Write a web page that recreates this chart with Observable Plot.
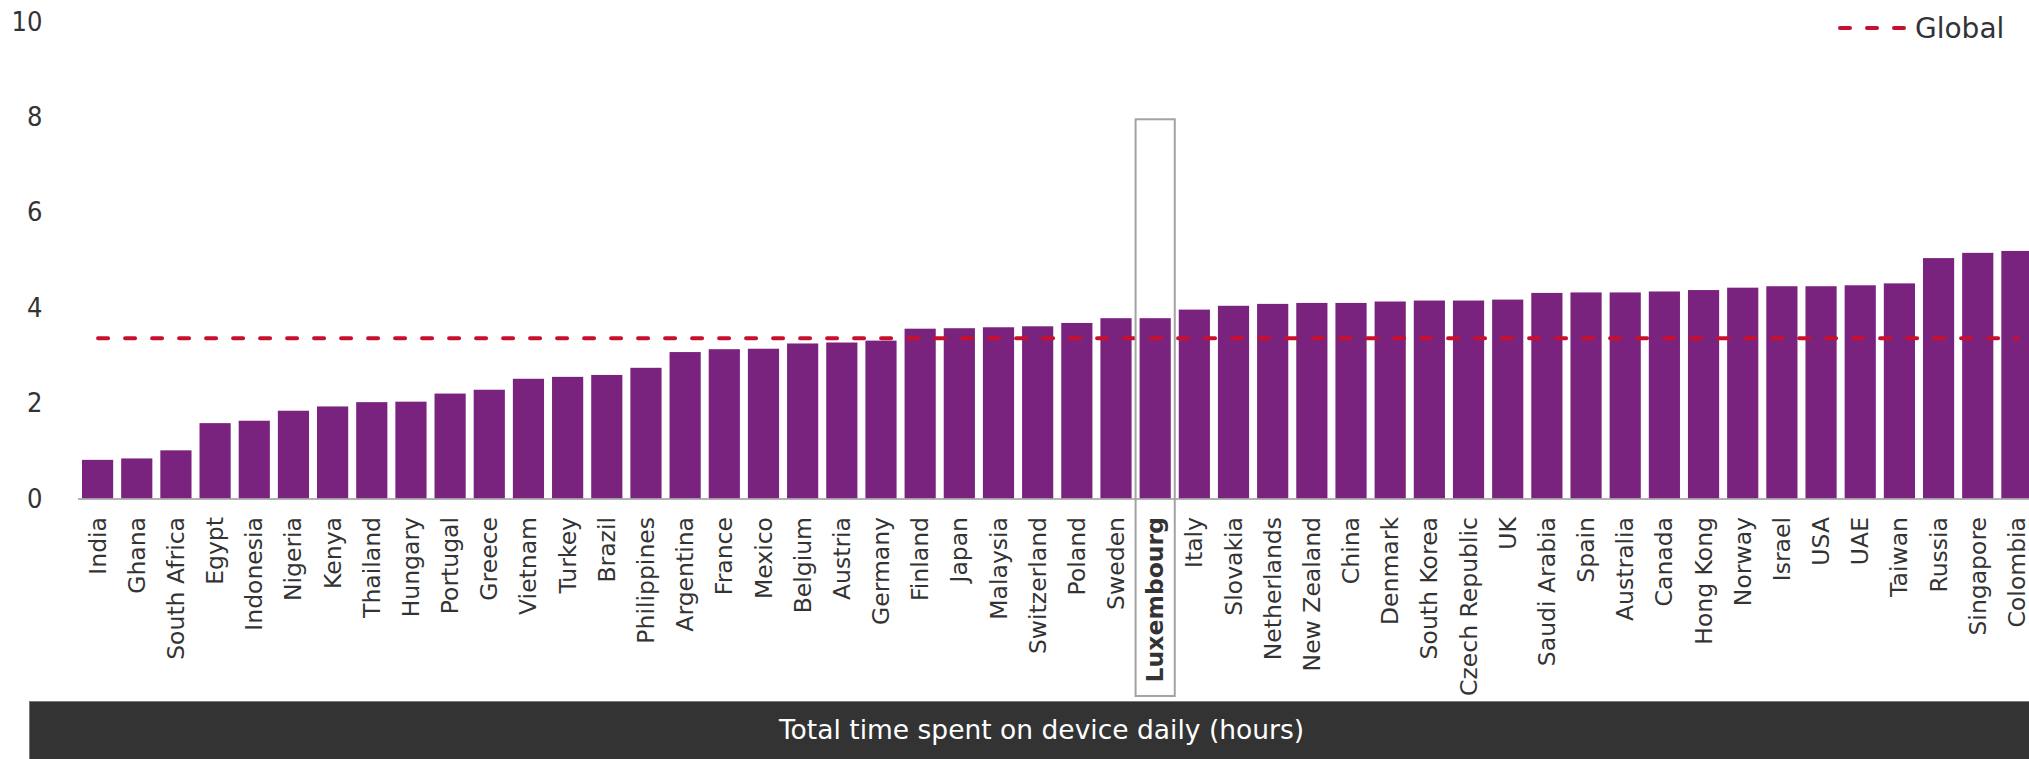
<!DOCTYPE html>
<html><head><meta charset="utf-8">
<script src="https://cdn.jsdelivr.net/npm/d3@7"></script>
<script src="https://cdn.jsdelivr.net/npm/@observablehq/plot@0.6"></script>
<style>
html,body{margin:0;padding:0;background:#fff;overflow:hidden;}
body{width:2029px;height:759px;position:relative;font-family:"DejaVu Sans",sans-serif;}
#chart svg{display:block;}
#legend{position:absolute;left:1836px;top:0;}
#caption{margin-left:29px;height:58px;background:#333;border-top:1px solid #7a7a7a;border-left:1px solid #7a7a7a;color:#fff;font-size:26.5px;line-height:56px;text-align:center;padding-left:24px;box-sizing:border-box;}
</style></head>
<body>
<div id="chart"></div>
<div id="caption">Total time spent on device daily (hours)</div>
<svg id="legend" width="193" height="50">
  <line x1="4" x2="71" y1="28" y2="28" stroke="#c8102e" stroke-width="4" stroke-dasharray="10,17" stroke-linecap="round"/>
  <text x="79" y="37.7" font-family="DejaVu Sans" font-size="28" fill="#333">Global</text>
</svg>
<script>
const countries = ["India","Ghana","South Africa","Egypt","Indonesia","Nigeria","Kenya","Thailand","Hungary","Portugal","Greece","Vietnam","Turkey","Brazil","Philippines","Argentina","France","Mexico","Belgium","Austria","Germany","Finland","Japan","Malaysia","Switzerland","Poland","Sweden","Luxembourg","Italy","Slovakia","Netherlands","New Zealand","China","Denmark","South Korea","Czech Republic","UK","Saudi Arabia","Spain","Australia","Canada","Hong Kong","Norway","Israel","USA","UAE","Taiwan","Russia","Singapore","Colombia"];
const hours = [0.81,0.84,1.01,1.58,1.63,1.84,1.93,2.02,2.03,2.20,2.28,2.51,2.55,2.59,2.74,3.07,3.13,3.14,3.25,3.27,3.31,3.56,3.57,3.59,3.61,3.68,3.78,3.78,3.96,4.04,4.08,4.10,4.10,4.13,4.15,4.15,4.17,4.31,4.32,4.32,4.34,4.37,4.42,4.45,4.45,4.47,4.51,5.04,5.15,5.19];
const globalAverage = 3.37;
const highlight = "Luxembourg";
const highlightBoxTop = 7.95;
const highlightBoxBottom = -4.14;
const yTicks = [0,2,4,6,8,10];

const data = countries.map((c, i) => ({country: c, hours: hours[i], global: globalAverage}));

const plot = Plot.plot({
  width: 2029, height: 701,
  marginTop: 21.5, marginBottom: 202.5, marginLeft: 78, marginRight: 0,
  style: {fontFamily: "DejaVu Sans", color: "#333", background: "white"},
  x: {type: "band", domain: countries, range: [78, 2036.5], paddingInner: 0.204, paddingOuter: 0.102, round: false},
  y: {domain: [0, 10]},
  marks: [
    Plot.barY(data, {x: "country", y: "hours", fill: "#7a237e"}),
    Plot.ruleY([0], {stroke: "#9a9a9a", strokeWidth: 1.5}),
    Plot.lineY(data, {x: "country", y: "global", stroke: "#c8102e", strokeWidth: 4, strokeDasharray: "10,17", strokeLinecap: "round"}),
    Plot.barY([highlight], {x: d => d, y1: highlightBoxBottom, y2: highlightBoxTop, fill: "none", stroke: "#a3a3a3", strokeWidth: 2, insetLeft: -4, insetRight: -4}),
    Plot.axisY(yTicks, {tickSize: 0, tickPadding: 36, fontSize: 27, fontFamily: "'DejaVu Sans Condensed', 'DejaVu Sans'", label: null}),
    Plot.axisX(countries.filter(c => c !== highlight), {tickSize: 0, tickPadding: 18, tickRotate: -90, fontSize: 23.5, label: null}),
    Plot.axisX([highlight], {tickSize: 0, tickPadding: 18, tickRotate: -90, fontSize: 23.5, fontWeight: "bold", label: null})
  ]
});
document.getElementById("chart").appendChild(plot);
</script>
</body></html>
